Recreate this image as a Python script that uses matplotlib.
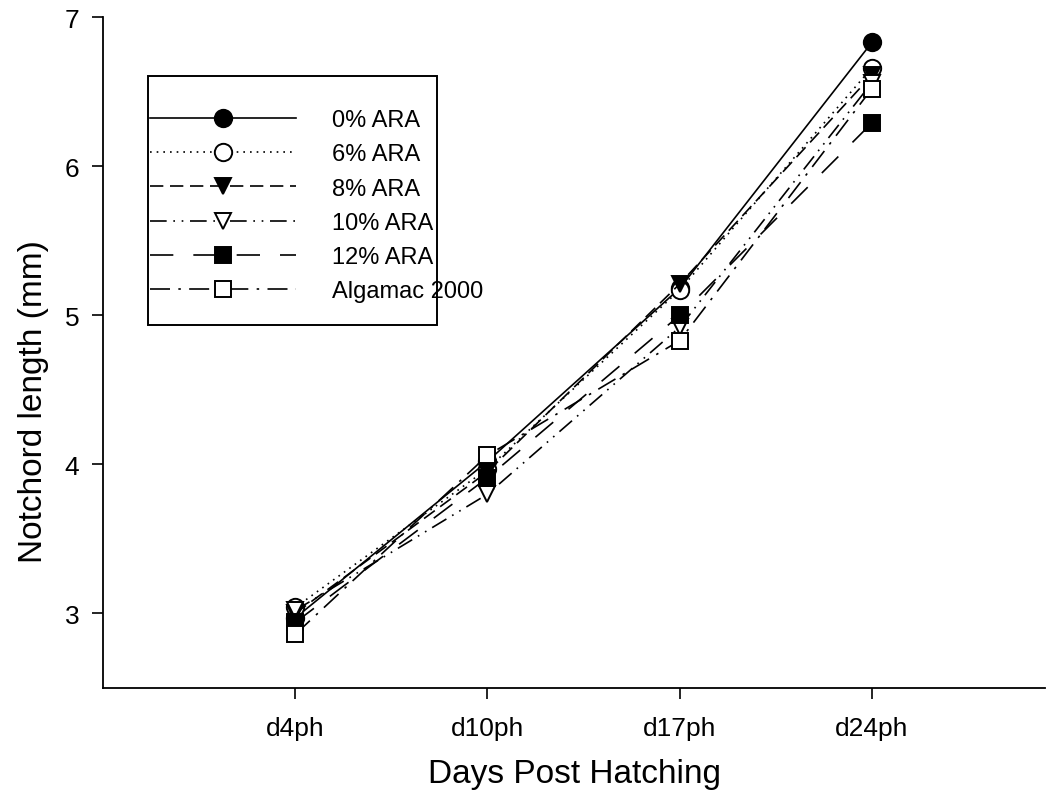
import matplotlib.pyplot as plt
from matplotlib.patches import Rectangle

plt.rcParams['font.family'] = ['Liberation Sans', 'DejaVu Sans']

days = ['d4ph', 'd10ph', 'd17ph', 'd24ph']
labels = ['0% ARA', '6% ARA', '8% ARA', '10% ARA', '12% ARA', 'Algamac 2000']

ara0 = [2.97, 4.02, 5.18, 6.83]
ara6 = [3.04, 3.97, 5.17, 6.66]
ara8 = [3.00, 3.95, 5.21, 6.61]
ara10 = [3.02, 3.80, 4.92, 6.56]
ara12 = [2.94, 3.91, 5.00, 6.29]
algamac = [2.86, 4.06, 4.83, 6.52]

series = [ara0, ara6, ara8, ara10, ara12, algamac]
markers = ['o', 'o', 'v', 'v', 's', 's']
msizes = [12.5, 12.5, 12, 12, 11.5, 11.5]
faces = ['black', 'white', 'black', 'white', 'black', 'white']
styles = ['-', (0, (1, 3)), (0, (8, 4)), (0, (10, 4, 1, 4, 1, 4)),
          (0, (14, 12)), (0, (12, 5, 1.5, 5))]

fig = plt.figure(figsize=(10.55, 8.04), dpi=100)
ax = fig.add_axes([103 / 1055, 1 - 689 / 804, (1045 - 103) / 1055, (689 - 18) / 804])

x = [1, 2, 3, 4]
for vals, lab, m, ms, fc, ls in zip(series, labels, markers, msizes, faces, styles):
    ax.plot(x, vals, linestyle=ls, color='black', linewidth=1.2, marker=m,
            markersize=ms, markerfacecolor=fc, markeredgecolor='black',
            markeredgewidth=1.4, label=lab)

ax.set_xlim(0, 4.9)
ax.set_ylim(2.5, 7)
ax.set_xticks(x)
ax.set_xticklabels(days)
ax.set_yticks([3, 4, 5, 6, 7])
ax.tick_params(labelsize=19, length=8, width=1.2, direction='out')
ax.tick_params(axis='x', pad=12)
ax.tick_params(axis='y', pad=9)
for s in ['left', 'bottom']:
    ax.spines[s].set_linewidth(1.3)
ax.spines['top'].set_visible(False)
ax.spines['right'].set_visible(False)
ax.set_xlabel('Days Post Hatching', fontsize=24, labelpad=13)
ax.set_ylabel('Notchord length (mm)', fontsize=24)
ax.yaxis.set_label_coords(-0.057, 0.428)

# legend text runs past its box in the original, so the frame is drawn by hand
leg = ax.legend(loc='upper left', bbox_to_anchor=(150 / 1055, 1 - 110 / 804),
                bbox_transform=fig.transFigure, borderaxespad=0, borderpad=0,
                fontsize=17, handlelength=6.2, handletextpad=1.5,
                labelspacing=0.52, frameon=False)
fig.patches.append(Rectangle((148 / 1055, 1 - 326 / 804), (437 - 148) / 1055,
                             (326 - 77) / 804, transform=fig.transFigure,
                             fill=False, edgecolor='black', linewidth=1.4))

fig.savefig('out.png', dpi=100)
